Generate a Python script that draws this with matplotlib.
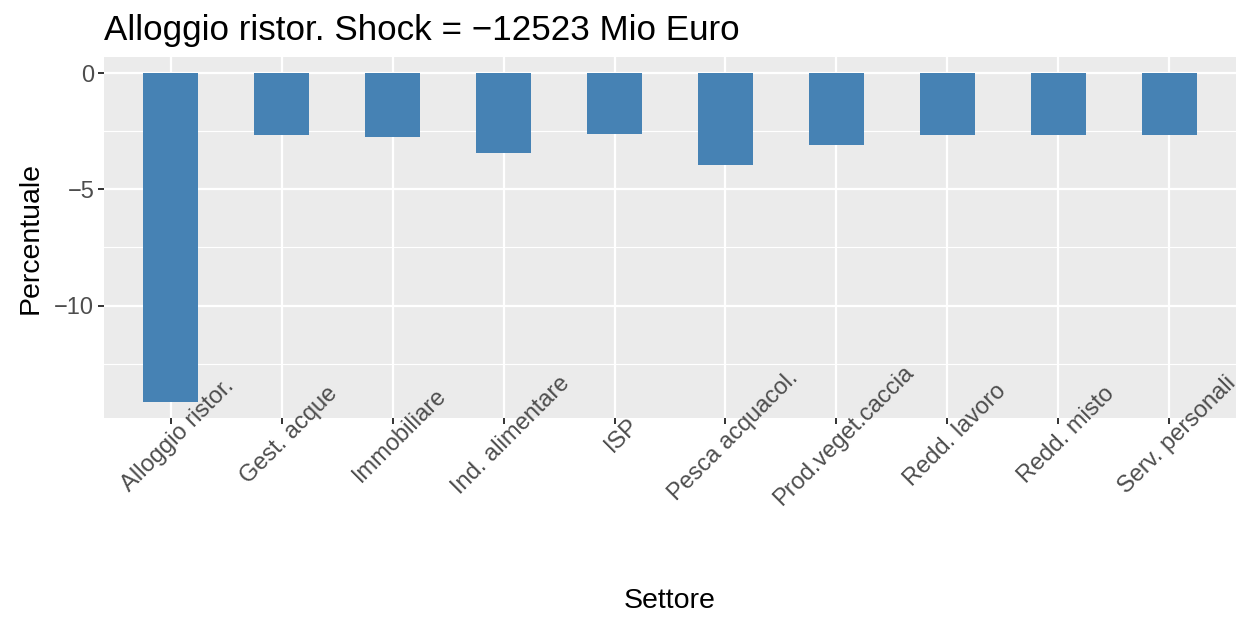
import numpy as np
import matplotlib
matplotlib.use("Agg")
import matplotlib.pyplot as plt

plt.rcParams['font.family'] = ['Liberation Sans', 'DejaVu Sans']

settori = ["Alloggio ristor.", "Gest. acque", "Immobiliare", "Ind. alimentare", "ISP",
           "Pesca acquacol.", "Prod.veget.caccia", "Redd. lavoro", "Redd. misto",
           "Serv. personali"]
percentuale = [-14.14, -2.67, -2.76, -3.41, -2.60, -3.96, -3.10, -2.67, -2.67, -2.67]
titolo = "Alloggio ristor. Shock = \u221212523 Mio Euro"

fig = plt.figure(figsize=(12.46, 6.19), dpi=100)
ax = fig.add_axes([104 / 1246, 1 - 418 / 619, 1132 / 1246, 361 / 619])
ax.set_facecolor("#EBEBEB")

x = np.arange(1, len(settori) + 1)
ax.bar(x, percentuale, width=0.5, color="#4682B4", zorder=3)

ymin = min(min(percentuale), 0)
ymax = max(max(percentuale), 0)
pad = (ymax - ymin) * 0.05
ax.set_ylim(ymin - pad, ymax + pad)
ax.set_xlim(0.4, len(settori) + 0.6)

ax.set_yticks([0, -5, -10])
ax.set_yticklabels(["0", "\u22125", "\u221210"])
ax.set_yticks([-2.5, -7.5, -12.5], minor=True)
ax.set_xticks(x)
ax.set_xticklabels(settori, rotation=45, rotation_mode="anchor", ha="center", va="top")

ax.grid(which="major", color="white", linewidth=1.6, zorder=1)
ax.grid(which="minor", axis="y", color="white", linewidth=0.8, zorder=1)
for s in ax.spines.values():
    s.set_visible(False)
ax.tick_params(which="major", length=4, width=1.4, color="#333333", labelsize=17,
               labelcolor="#4D4D4D", pad=3)
ax.tick_params(which="minor", length=0)

# asse x: titolo posizionato a mano come in ggplot
fig.text(670 / 1246, 1 - 601 / 619, "Settore", fontsize=20.5, ha="center", va="center")
ax.set_ylabel("Percentuale", fontsize=20.5, labelpad=8)
ax.set_title(titolo, fontsize=25.2, loc="left", pad=12)

fig.savefig("out.png", dpi=100)
